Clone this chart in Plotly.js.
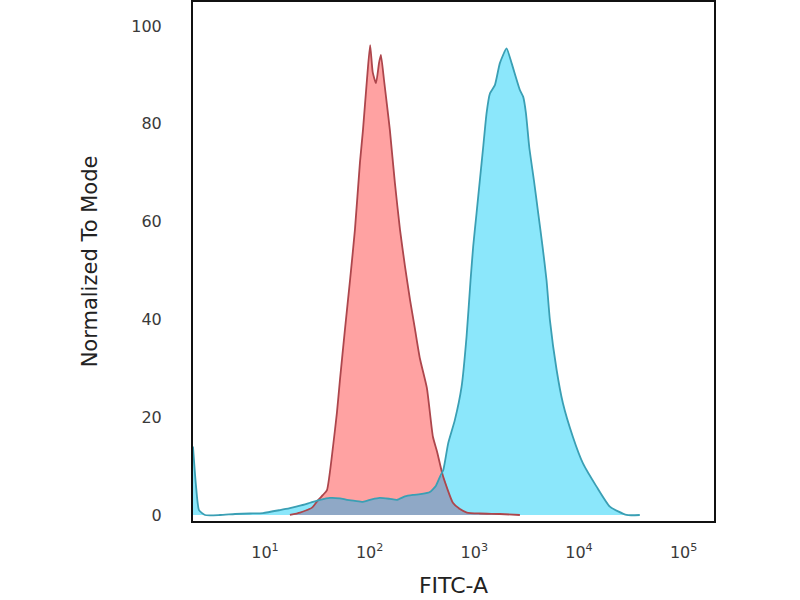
<!DOCTYPE html>
<html>
<head>
<meta charset="utf-8">
<script src="https://cdn.plot.ly/plotly-3.0.1.min.js"></script>
<style>html,body{margin:0;padding:0;background:#fff;}#chart{width:800px;height:600px;}</style>
</head>
<body>
<div id="chart"></div>
<script>
// Isotype control (red) histogram
const redX = [17.3, 21.6, 28.1, 32, 35.8, 39.1, 44.6, 48.7, 52.0, 58.1, 64.9, 72.3, 80.7, 86.3, 94.2, 101, 107, 115, 123, 128, 137, 146, 156, 174, 195, 217, 243, 271, 302, 352, 402, 440, 501, 624, 728, 849, 1130, 1754, 2725];
const redY = [0, 0.5, 1.5, 3, 4.1, 5.1, 13.9, 21, 27.6, 38, 48, 58.3, 72, 78.7, 89, 96.1, 90.5, 88.3, 92.5, 94.1, 89, 84, 78.7, 68, 58.3, 51, 44, 38, 32, 26, 16, 13, 8, 2.5, 1.2, 0.5, 0.3, 0.2, 0];

// Stained sample (blue) histogram
const blueX = [2.05, 2.19, 2.34, 2.67, 3.72, 5.17, 7.18, 9.57, 13.9, 17.3, 21.6, 26.9, 33.5, 41.7, 52.0, 60.7, 72.3, 86.3, 105, 125, 156, 182, 217, 259, 316, 376, 430, 469, 505, 563, 651, 755, 843, 920, 975, 1051, 1130, 1216, 1309, 1409, 1572, 1754, 2032, 2270, 2725, 2931, 3112, 3345, 3707, 4074, 4487, 4897, 5271, 6109, 7014, 8737, 10890, 14720, 19730, 28510, 38100];
const blueY = [14, 6, 1, 0, 0, 0.2, 0.3, 0.4, 1, 1.4, 1.9, 2.5, 3.1, 3.5, 3.4, 3.1, 2.9, 2.7, 3.2, 3.5, 3.3, 3.1, 3.8, 4.1, 4.3, 4.7, 6, 7.8, 9.2, 14.7, 19.4, 26.2, 36.5, 48, 54.9, 61.8, 68.5, 75.3, 82.2, 86.2, 87.9, 92.4, 95.4, 92.4, 86.9, 85.5, 82.2, 75.3, 68.5, 61.8, 54.9, 48, 39.9, 29.7, 22.9, 16, 10.6, 5.8, 1.7, 0, 0];

// Visible overlap region (grey-blue)
const overlapX = [17.3, 21.6, 28.1, 32, 35.8, 41.7, 52.0, 60.7, 72.3, 86.3, 105, 125, 156, 182, 217, 259, 316, 376, 430, 469, 501, 624, 728, 849, 1130, 1754, 2725];
const overlapY = [0, 0.5, 1.5, 3, 3.3, 3.5, 3.4, 3.1, 2.9, 2.7, 3.2, 3.5, 3.3, 3.1, 3.8, 4.1, 4.3, 4.7, 6, 7.8, 8, 2.5, 1.2, 0.5, 0.3, 0.2, 0];

const tickVals = [10, 100, 1000, 10000, 100000];
const tickText = ['10<sup>1</sup>', '10<sup>2</sup>', '10<sup>3</sup>', '10<sup>4</sup>', '10<sup>5</sup>'];
const yTickVals = [0, 20, 40, 60, 80, 100];

const redLine = '#ad464c', blueLine = '#3a9fb4';
const sm = {shape: 'spline', smoothing: 0.5};

const traces = [
  {x: redX, y: redY, type: 'scatter', mode: 'lines', fill: 'tozeroy', fillcolor: '#ffa2a2', line: Object.assign({color: redLine, width: 0}, sm), hoverinfo: 'skip'},
  {x: blueX, y: blueY, type: 'scatter', mode: 'lines', fill: 'tozeroy', fillcolor: '#8be7fb', line: Object.assign({color: blueLine, width: 0}, sm), hoverinfo: 'skip'},
  {x: overlapX, y: overlapY, type: 'scatter', mode: 'lines', fill: 'tozeroy', fillcolor: '#8fa8c6', line: Object.assign({width: 0}, sm), hoverinfo: 'skip'},
  {x: redX, y: redY, type: 'scatter', mode: 'lines', line: Object.assign({color: redLine, width: 1.8}, sm), hoverinfo: 'skip'},
  {x: blueX, y: blueY, type: 'scatter', mode: 'lines', line: Object.assign({color: blueLine, width: 1.8}, sm), hoverinfo: 'skip'}
];

const layout = {
  width: 800, height: 600,
  margin: {l: 193, r: 86, t: 2, b: 79},
  paper_bgcolor: '#ffffff', plot_bgcolor: '#ffffff',
  showlegend: false,
  font: {family: 'DejaVu Sans, Verdana, sans-serif', color: '#333333'},
  xaxis: {
    type: 'log', range: [0.312, 5.29],
    tickvals: tickVals, ticktext: tickText,
    ticks: '', showgrid: false, zeroline: false,
    showline: true, mirror: true, linecolor: '#111111', linewidth: 2,
    tickfont: {size: 16, color: '#3a3a3a'},
    ticklabelstandoff: 16,
    title: {text: 'FITC-A', font: {size: 22, color: '#222222'}, standoff: 16}
  },
  yaxis: {
    range: [-1.23, 104.9],
    tickvals: yTickVals,
    ticks: '', showgrid: false, zeroline: false,
    showline: true, mirror: true, linecolor: '#111111', linewidth: 2,
    tickfont: {size: 16, color: '#3a3a3a'},
    ticklabelstandoff: 26,
    title: {text: 'Normalized To Mode', font: {size: 21, color: '#222222'}, standoff: 28}
  }
};

Plotly.newPlot('chart', traces, layout, {displayModeBar: false, staticPlot: true});
</script>
</body>
</html>
